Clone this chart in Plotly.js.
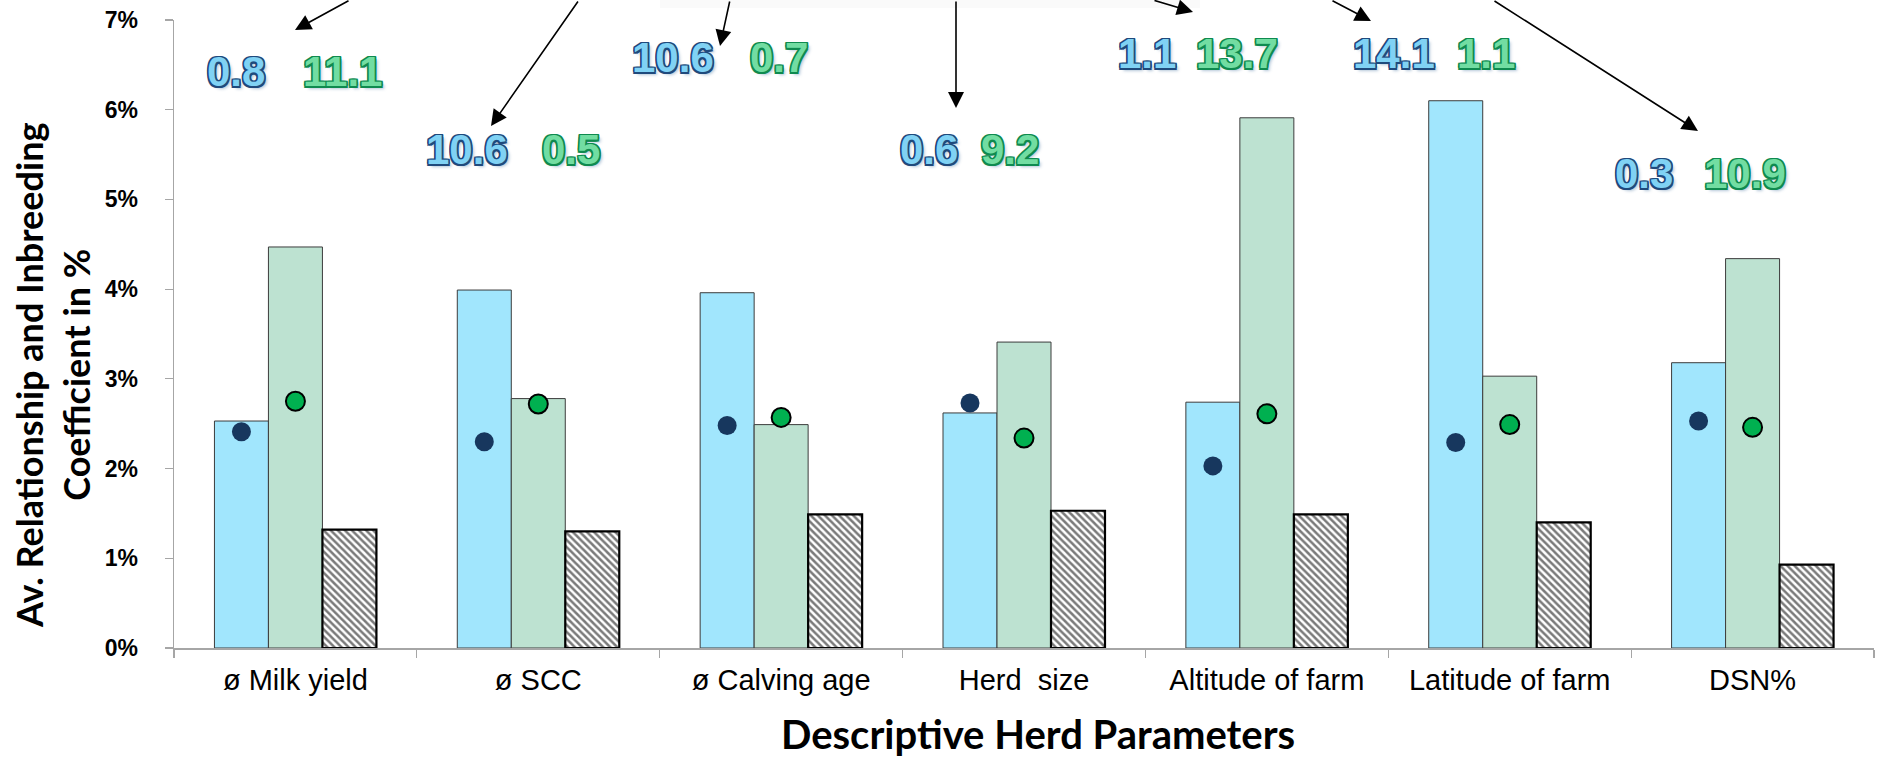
<!DOCTYPE html>
<html>
<head>
<meta charset="utf-8">
<script src="https://cdn.plot.ly/plotly-3.0.1.min.js"></script>
<style>html,body{margin:0;padding:0;background:#fff;}#chart{width:1882px;height:764px;}</style>
</head>
<body>
<div id="chart"></div>
<script>
// ---------- data ----------
const categories = ['ø Milk yield', 'ø SCC', 'ø Calving age', 'Herd\u00a0 size', 'Altitude of farm', 'Latitude of farm', 'DSN%'];
const blueBars  = [0.0253, 0.0399, 0.0396, 0.0262, 0.0274, 0.0610, 0.0318];
const greenBars = [0.0447, 0.0278, 0.0249, 0.0341, 0.0591, 0.0303, 0.0434];
const hatchBars = [0.0132, 0.0130, 0.0149, 0.0153, 0.0149, 0.0140, 0.0093];
const blueDots  = [0.0241, 0.0230, 0.0248, 0.0273, 0.0203, 0.0229, 0.0253];
const greenDots = [0.0275, 0.0272, 0.0257, 0.0234, 0.0261, 0.0249, 0.0246];
const blueLabels  = ['0.8', '10.6', '10.6', '0.6', '1.1', '14.1', '0.3'];
const greenLabels = ['11.1', '0.5', '0.7', '9.2', '13.7', '1.1', '10.9'];
const yTickVals = [0, 0.01, 0.02, 0.03, 0.04, 0.05, 0.06, 0.07];
const yTickText = ['0%', '1%', '2%', '3%', '4%', '5%', '6%', '7%'];
const xTitle = 'Descriptive Herd Parameters';
const yTitle = 'Av. Relationship and Inbreeding<br>Coefficient in %';

// ---------- layout helpers (pixel geometry) ----------
const W = 1882, H = 764, ML = 174, MR = 8, MT = 20, MB = 116;
const PW = W - ML - MR, PH = H - MT - MB;
const px = x => (x - ML) / PW;          // pixel -> paper x
const py = y => (H - MB - y) / PH;      // pixel -> paper y
const bargap = 0.333;
const bw = (1 - bargap) / 3;
const idx = categories.map((_, i) => i);

// label anchor positions in pixels (centers)
const labelPos = [
  [236, 342, 72], [467, 571, 150], [673, 779, 57], [929, 1010, 150],
  [1147, 1237, 54], [1394, 1486, 54], [1644, 1745, 174]
];
// arrows: tip pixel x, y, tail offset ax, ay
const arrows = [
  [295, 30, 55, -40], [491, 126, 88, -139], [720, 46, 10, -52], [956, 108, 0, -115],
  [1193, 12, -40, -30], [1371, 21, -40, -30], [1698, 131, -205, -142]
];

function outline(c, w) {
  const o = [];
  [[-w,-w],[w,-w],[-w,w],[w,w],[0,-w],[0,w],[-w,0],[w,0]].forEach(d => o.push(d[0]+'px '+d[1]+'px 0 '+c));
  o.push('3px 3px 3px rgba(90,130,170,0.45)');
  return o.join(', ');
}

const traces = [
  {type:'bar', x:categories, y:blueBars, name:'blue', marker:{color:'#a1e6fd', line:{color:'#3c3c3c', width:1}}, hoverinfo:'skip'},
  {type:'bar', x:categories, y:greenBars, name:'green', marker:{color:'#bde2d1', line:{color:'#3c3c3c', width:1}}, hoverinfo:'skip'},
  {type:'bar', x:categories, y:hatchBars, name:'hatch', marker:{color:'#ffffff', line:{color:'#000000', width:2.2},
    pattern:{shape:'\\', fgcolor:'#7a7a7a', bgcolor:'#ffffff', size:5, solidity:0.5}}, hoverinfo:'skip'},
  {type:'scatter', mode:'markers', xaxis:'x2', yaxis:'y', x:idx.map(i => i - bw), y:blueDots,
    marker:{size:19, color:'#17375e', line:{width:0}}, hoverinfo:'skip'},
  {type:'scatter', mode:'markers', xaxis:'x2', yaxis:'y', x:idx.map(i => i), y:greenDots,
    marker:{size:19, color:'#00b050', line:{width:2, color:'#000'}}, hoverinfo:'skip'}
];

const annotations = [];
labelPos.forEach((p, i) => {
  annotations.push({xref:'paper', yref:'paper', x:px(p[0]), y:py(p[2]), xanchor:'center', yanchor:'middle', showarrow:false,
    text:blueLabels[i], font:{family:'Liberation Sans, Arial, sans-serif', size:42, weight:700, color:'#80d2f4', shadow:outline('#1f4a7c', 1.5)}});
  annotations.push({xref:'paper', yref:'paper', x:px(p[1]), y:py(p[2]), xanchor:'center', yanchor:'middle', showarrow:false,
    text:greenLabels[i], font:{family:'Liberation Sans, Arial, sans-serif', size:42, weight:700, color:'#72dda2', shadow:outline('#0f8a4f', 1.5)}});
});
arrows.forEach(a => {
  annotations.push({xref:'paper', yref:'paper', x:px(a[0]), y:py(a[1]), ax:a[2], ay:a[3], text:'', showarrow:true,
    arrowhead:2, arrowsize:2, arrowwidth:1.6, arrowcolor:'#000', standoff:0});
});
annotations.push({xref:'paper', yref:'paper', x:px(1038), y:py(734), xanchor:'center', yanchor:'middle', showarrow:false,
  text:xTitle, font:{family:'Lato, Open Sans, sans-serif', size:40, weight:700, color:'#000'}});
annotations.push({xref:'paper', yref:'paper', x:px(52), y:py(376), xanchor:'center', yanchor:'middle', showarrow:false, textangle:-90,
  text:yTitle, font:{family:'Lato, Open Sans, sans-serif', size:36, weight:700, color:'#000'}});

const layout = {
  width:W, height:H, margin:{l:ML, r:MR, t:MT, b:MB}, paper_bgcolor:'#fff', plot_bgcolor:'#fff',
  showlegend:false, barmode:'group', bargap:bargap, bargroupgap:0,
  xaxis:{type:'category', tickson:'boundaries', ticks:'outside', ticklen:8, tickwidth:1.2, tickcolor:'#a6a6a6',
    showline:true, linecolor:'#a6a6a6', linewidth:1.5, showgrid:false, zeroline:false, fixedrange:true,
    tickfont:{family:'Liberation Sans, Arial, sans-serif', size:29, color:'#000'}, ticklabelstandoff:6},
  xaxis2:{overlaying:'x', type:'linear', range:[-0.5, categories.length - 0.5], visible:false, anchor:'y', fixedrange:true},
  yaxis:{range:[0, 0.07], tickvals:yTickVals, ticktext:yTickText, ticks:'outside', ticklen:8, tickwidth:1.2, tickcolor:'#a6a6a6',
    showline:true, linecolor:'#a6a6a6', linewidth:1.5, showgrid:false, zeroline:false, fixedrange:true,
    tickfont:{family:'Liberation Sans, Arial, sans-serif', size:23, weight:700, color:'#000'}, ticklabelstandoff:22},
  shapes:[{type:'rect', xref:'paper', yref:'paper', x0:px(660), x1:px(1200), y0:py(8), y1:py(-2), fillcolor:'rgba(0,0,0,0.018)', line:{width:0}, layer:'below'}],
  annotations:annotations
};

Plotly.newPlot('chart', traces, layout, {staticPlot:true, displayModeBar:false});
</script>
</body>
</html>
